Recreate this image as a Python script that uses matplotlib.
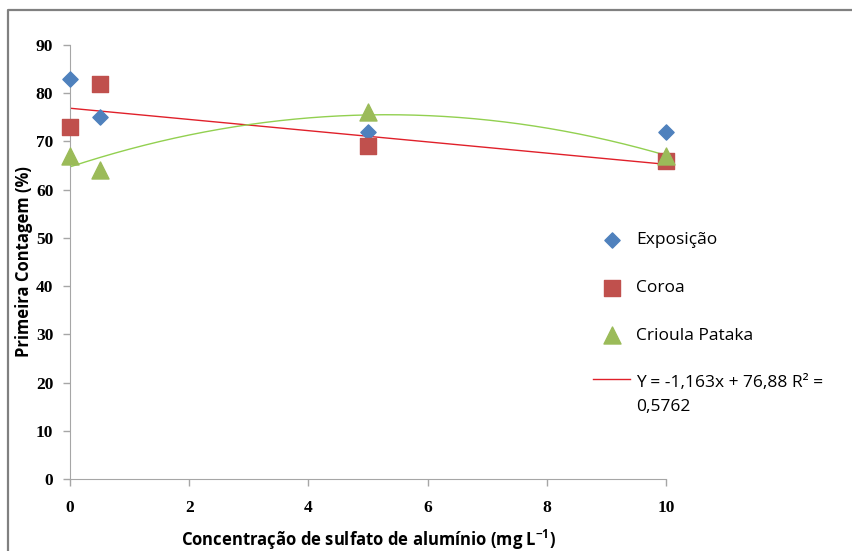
import numpy as np
import matplotlib.pyplot as plt
from matplotlib.lines import Line2D
from matplotlib.legend_handler import HandlerLine2D

# doses de sulfato de aluminio (mg L-1)
doses = [0, 0.5, 5, 10]

exposicao = [83, 75, 72, 72]
coroa = [73, 82, 69, 66]
crioula = [67, 64, 76, 67]

# reta ajustada (Coroa)
a_lin = -1.163
b_lin = 76.88
eq_label = 'Y = -1,163x + 76,88 R² =\n0,5762'


class HandlerUp(HandlerLine2D):
    # sobe a linha da legenda para ficar na primeira linha do texto
    def create_artists(self, legend, orig_handle, xdescent, ydescent, width, height, fontsize, trans):
        arts = super().create_artists(legend, orig_handle, xdescent, ydescent, width, height, fontsize, trans)
        for a in arts:
            a.set_ydata(np.asarray(a.get_ydata()) + 0.9 * fontsize)
        return arts


fig = plt.figure(figsize=(8.52, 5.51), dpi=100)
ax = fig.add_axes([0.0822, 0.1307, 0.6995, 0.7877])

# borda do grafico
fig.add_artist(Line2D([0.009, 0.009, 1.0], [0.0, 0.982, 0.982], transform=fig.transFigure,
                      color='#808080', lw=1.6))

ax.scatter(doses, exposicao, marker='D', s=60, color='#4F81BD', zorder=3, label='Exposição', clip_on=False)
ax.scatter(doses, coroa, marker='s', s=130, color='#C0504D', zorder=3, label='Coroa', clip_on=False)
ax.scatter(doses, crioula, marker='^', s=150, color='#9BBB59', zorder=3, label='Crioula Pataka', clip_on=False)

xx = np.linspace(0, 10, 200)
reta, = ax.plot(xx, a_lin * xx + b_lin, color='#E0202A', lw=1, zorder=2, label=eq_label)

# curva quadratica para Crioula Pataka
coef = np.polyfit(doses, crioula, 2)
ax.plot(xx, np.polyval(coef, xx), color='#92D050', lw=1, zorder=2)

ax.set_xlim(0, 10)
ax.set_ylim(0, 90)
ax.set_xticks(np.arange(0, 11, 2))
ax.set_yticks(np.arange(0, 91, 10))

for s in ['top', 'right']:
    ax.spines[s].set_visible(False)
for s in ['left', 'bottom']:
    ax.spines[s].set_color('#A6A6A6')
ax.tick_params(color='#A6A6A6', length=5, width=1)
ax.tick_params(axis='y', pad=7)
ax.tick_params(axis='x', pad=10)
for lab in ax.get_xticklabels() + ax.get_yticklabels():
    lab.set_fontfamily('Liberation Serif')
    lab.set_fontweight('bold')
    lab.set_fontsize(12.5)

ax.set_xlabel('Concentração de sulfato de alumínio (mg L$^{\\mathregular{-1}}$)',
              fontfamily='Open Sans', fontweight='bold', fontsize=12, labelpad=9)
ax.set_ylabel('Primeira Contagem (%)', fontfamily='Open Sans', fontweight='bold',
              fontsize=12, labelpad=2)

leg = fig.legend(loc='upper left', bbox_to_anchor=(0.678, 0.607), frameon=False,
                 prop={'family': 'Open Sans', 'size': 12.5}, labelspacing=1.82,
                 handlelength=2.1, handletextpad=0.35, scatterpoints=1,
                 handler_map={reta: HandlerUp()})
leg.get_texts()[-1].set_linespacing(1.6)

plt.savefig('out.png', dpi=100)
